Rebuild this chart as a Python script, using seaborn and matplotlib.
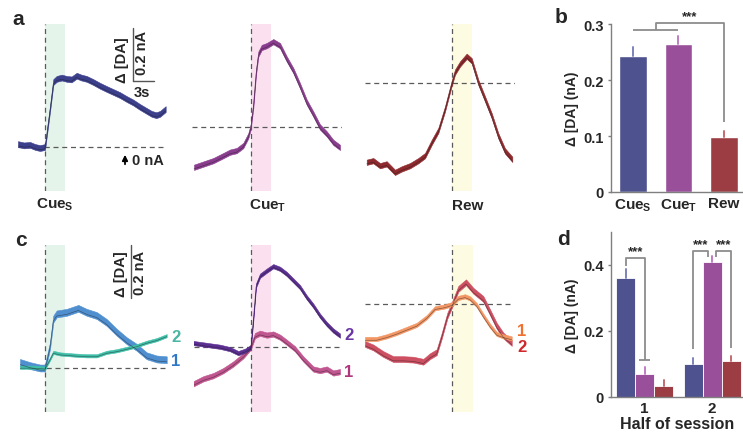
import numpy as np
import pandas as pd
import matplotlib
matplotlib.use("Agg")
import matplotlib.pyplot as plt
import seaborn as sns

# ---------------- data ----------------
# panel a traces (time in s relative to cue, change in [DA] in nA)
a_cues_t = [-3.86, -3.0, -2.14, -1.4, -0.71, 0.0, 0.71, 1.19, 1.67, 2.4, 3.1, 3.8, 4.53, 5.2, 5.96, 6.9,
            7.86, 8.8, 9.71, 10.7, 11.67, 12.6, 13.57, 14.4, 15.24, 15.9, 16.43, 17.24]
a_cues_v = [0.011, 0.006, 0.008, 0.0, -0.004, 0.0, 0.143, 0.245, 0.257, 0.262, 0.257, 0.255, 0.269, 0.262,
            0.257, 0.245, 0.231, 0.219, 0.208, 0.196, 0.181, 0.168, 0.151, 0.138, 0.125, 0.12, 0.125, 0.143]
a_cuet_t = [-8.1, -6.77, -5.34, -3.91, -2.96, -2.0, -1.06, -0.34, 0.0, 0.37, 0.76, 1.09, 1.57, 2.29, 3.23,
            4.19, 5.14, 6.09, 7.04, 8.0, 8.94, 9.9, 10.86, 11.8, 12.76]
a_cuet_v = [-0.152, -0.140, -0.127, -0.108, -0.095, -0.089, -0.070, -0.033, 0.0, 0.080, 0.206, 0.275, 0.300,
            0.307, 0.322, 0.307, 0.257, 0.213, 0.156, 0.094, 0.049, 0.0, -0.026, -0.058, -0.077]
a_rew_t = [-12.14, -11.2, -10.24, -9.29, -8.1, -7.14, -5.96, -4.77, -3.81, -2.86, -1.91, -0.96, 0.0, 0.47,
           1.19, 2.14, 2.86, 3.8, 4.76, 5.71, 6.66, 7.61, 8.66]
a_rew_v = [-0.298, -0.292, -0.311, -0.304, -0.336, -0.323, -0.311, -0.292, -0.273, -0.223, -0.178, -0.097,
           0.0, 0.042, 0.073, 0.102, 0.085, 0.004, -0.059, -0.122, -0.198, -0.255, -0.287]

# panel c traces, split by half of session
c_cues1_t = [-3.57, -2.14, -0.71, 0.0, 0.71, 1.19, 1.67, 3.1, 4.76, 5.96, 7.39, 8.81, 10.24, 11.67, 13.1,
             14.53, 15.96, 17.39]
c_cues1_v = [0.021, 0.009, 0.0, 0.0, 0.084, 0.185, 0.204, 0.210, 0.225, 0.210, 0.198, 0.172, 0.135, 0.103,
             0.078, 0.046, 0.034, 0.031]
c_cues2_t = [-3.57, -1.67, 0.0, 0.71, 1.19, 2.14, 4.04, 5.96, 7.39, 8.81, 10.24, 11.67, 13.1, 14.53, 15.96, 17.39]
c_cues2_v = [0.003, 0.003, 0.0, 0.034, 0.059, 0.053, 0.049, 0.046, 0.046, 0.059, 0.065, 0.074, 0.084, 0.097,
             0.107, 0.122]
c_cuet2_t = [-8.2, -6.29, -4.39, -2.96, -1.77, -0.81, 0.0, 0.37, 0.76, 1.33, 2.29, 3.23, 4.19, 5.14, 6.09,
             7.04, 7.99, 8.94, 9.9, 10.86, 11.8, 12.76]
c_cuet2_v = [0.016, 0.009, 0.002, -0.007, -0.022, -0.013, 0.0, 0.107, 0.233, 0.270, 0.289, 0.306, 0.296,
             0.277, 0.252, 0.227, 0.189, 0.157, 0.119, 0.088, 0.063, 0.044]
c_cuet1_t = [-8.2, -6.77, -5.34, -3.91, -2.49, -1.06, 0.0, 0.61, 1.33, 2.29, 3.23, 4.19, 5.14, 6.33, 7.51,
             8.94, 9.9, 10.86, 11.8, 12.76]
c_cuet1_v = [-0.138, -0.119, -0.107, -0.088, -0.063, -0.032, 0.0, 0.044, 0.053, 0.046, 0.050, 0.038, 0.019,
             -0.006, -0.044, -0.082, -0.088, -0.082, -0.097, -0.092]
c_rew1_t = [-12.47, -10.8, -9.37, -7.94, -6.51, -5.09, -3.66, -2.47, -1.04, 0.0, 0.86, 1.81, 2.53, 3.49,
            4.43, 5.39, 6.34, 7.29, 8.49]
c_rew1_v = [-0.132, -0.132, -0.122, -0.109, -0.094, -0.079, -0.050, -0.016, -0.009, 0.0, 0.023, 0.029,
            0.021, -0.004, -0.044, -0.082, -0.113, -0.122, -0.130]
c_rew2_t = [-12.47, -11.29, -9.86, -8.43, -7.0, -5.57, -4.14, -3.19, -2.23, -1.51, -0.71, 0.0, 0.86, 1.96,
            3.0, 4.43, 5.39, 6.34, 7.29, 8.49]
c_rew2_v = [-0.151, -0.164, -0.189, -0.208, -0.208, -0.210, -0.218, -0.197, -0.182, -0.120, -0.044, 0.0,
            0.057, 0.082, 0.050, 0.019, -0.031, -0.082, -0.119, -0.147]

# panel b bars
b_cats = ["CueS", "CueT", "Rew"]
b_ticklabels = [r"Cue$_\mathbf{S}$", r"Cue$_\mathbf{T}$", "Rew"]
b_vals = [0.244, 0.264, 0.098]
b_err = [0.016, 0.015, 0.012]
b_yticks = [0, 0.1, 0.2, 0.3]
b_yticklabels = ["0", "0.1", "0.2", "0.3"]

# panel d bars
d_halves = ["1", "2"]
d_vals_half1 = [0.360, 0.069, 0.032]
d_vals_half2 = [0.100, 0.409, 0.107]
d_err_half1 = [0.029, 0.022, 0.020]
d_err_half2 = [0.018, 0.017, 0.018]
d_yticks = [0, 0.2, 0.4]
d_yticklabels = ["0", "0.2", "0.4"]

# ---------------- style ----------------
sns.set_theme(style="white")
plt.rcParams["font.family"] = ["Liberation Sans", "DejaVu Sans"]
plt.rcParams["mathtext.fontset"] = "custom"
plt.rcParams["mathtext.rm"] = "Liberation Sans"
plt.rcParams["mathtext.bf"] = "Liberation Sans:bold"

bar_colors = ["#4e5390", "#9a4f9a", "#9b3d43"]
err_colors = ["#7d82bd", "#c27cc4", "#c46b70"]
bracket_col = "#8c8c8c"
dash_col = "#5a5a5a"
CUE_DUR = 2.9

W, H = 743, 435
fig = plt.figure(figsize=(W / 100, H / 100), dpi=100)
PX_PER_S = 7.0
PX_PER_NA = 265.0


def add_px_axes(l, t, r, b):
    return fig.add_axes([l / W, 1 - b / H, (r - l) / W, (b - t) / H])


def ftext(x, y, s, **kw):
    kw.setdefault("fontweight", "bold")
    return fig.text(x / W, 1 - y / H, s, **kw)


def trace_panel(l, t, r, b, cue_x, base_y, shade, traces):
    ax = add_px_axes(l, t, r, b)
    ax.axvspan(0, CUE_DUR, color=shade, lw=0, zorder=0)
    ax.axvline(0, color=dash_col, lw=0.9, ls=(0, (4, 3)), zorder=1)
    ax.axhline(0, color=dash_col, lw=0.9, ls=(0, (4, 3)), zorder=1)
    for tt, vv, sem, col in traces:
        tt = np.asarray(tt)
        vv = np.asarray(vv)
        ax.fill_between(tt, vv - sem, vv + sem, color=col, lw=0.4, edgecolor=col, zorder=2)
        sns.lineplot(x=tt, y=vv - sem * 0.6, ax=ax, color="#1c1c1c", lw=0.45, alpha=0.55, zorder=3,
                     sort=False)
    ax.set_xlim((l - cue_x) / PX_PER_S, (r - cue_x) / PX_PER_S)
    ax.set_ylim((base_y - b) / PX_PER_NA, (base_y - t) / PX_PER_NA)
    ax.axis("off")
    return ax


# ---------------- panel a ----------------
ax_a1 = trace_panel(18, 25, 166, 192, 45, 148, "#e4f4ea",
                    [(a_cues_t, a_cues_v, 0.011, "#3b3f8c")])
ax_a2 = trace_panel(192, 25, 342, 192, 250.7, 128, "#fbe1f0",
                    [(a_cuet_t, a_cuet_v, 0.010, "#8a3d8e")])
ax_a3 = trace_panel(365, 25, 515, 192, 451.7, 84.3, "#fdfbe2",
                    [(a_rew_t, a_rew_v, 0.010, "#8e2a2e")])

# scale bar in panel a (0.2 nA, 3 s)
sb_t, sb_v = 12.57, 0.249
ax_a1.plot([sb_t, sb_t], [sb_v, sb_v + 0.2], color="#555555", lw=1.0, clip_on=False)
ax_a1.plot([sb_t, sb_t + 3], [sb_v, sb_v], color="#555555", lw=1.0, clip_on=False)
ftext(122, 60, "Δ [DA]", rotation=90, ha="center", va="center", fontsize=10.5)
ftext(142, 53, "0.2 nA", rotation=90, ha="center", va="center", fontsize=10.5)
ftext(142, 93, "3s", ha="center", va="center", fontsize=10.5)
fig.add_artist(matplotlib.patches.FancyArrowPatch((125 / W, 1 - 168 / H), (125 / W, 1 - 153 / H),
                                                  transform=fig.transFigure, arrowstyle="-|>",
                                                  mutation_scale=8, color="black", lw=1.3))
ftext(132, 161, "0 nA", ha="left", va="center", fontsize=10.5)

ftext(55, 205, r"Cue$_\mathbf{S}$", ha="center", va="center", fontsize=11)
ftext(268, 206, r"Cue$_\mathbf{T}$", ha="center", va="center", fontsize=11)
ftext(468, 206, "Rew", ha="center", va="center", fontsize=11)

# ---------------- panel c ----------------
ax_c1 = trace_panel(20, 246, 167, 413, 45, 369, "#e4f4ea",
                    [(c_cues1_t, c_cues1_v, 0.013, "#4f8fd0"),
                     (c_cues2_t, c_cues2_v, 0.006, "#3fbfa9")])
ax_c2 = trace_panel(194, 246, 341, 413, 250.7, 348.3, "#fbe1f0",
                    [(c_cuet1_t, c_cuet1_v, 0.010, "#c0558f"),
                     (c_cuet2_t, c_cuet2_v, 0.008, "#5b2e91")])
ax_c3 = trace_panel(365, 246, 514, 413, 452.3, 305, "#fdfbe2",
                    [(c_rew2_t, c_rew2_v, 0.011, "#cc4f62"),
                     (c_rew1_t, c_rew1_v, 0.008, "#f39664")])

ax_c1.plot([12.29, 12.29], [0.264, 0.464], color="#555555", lw=1.0, clip_on=False)
ftext(121, 274, "Δ [DA]", rotation=90, ha="center", va="center", fontsize=10.5)
ftext(140, 273, "0.2 nA", rotation=90, ha="center", va="center", fontsize=10.5)

ftext(176, 338, "2", color="#4ab5a5", ha="center", va="center", fontsize=12)
ftext(176, 362, "1", color="#2f78c8", ha="center", va="center", fontsize=12)
ftext(349, 336, "2", color="#6a36a6", ha="center", va="center", fontsize=12)
ftext(349, 373, "1", color="#b0367e", ha="center", va="center", fontsize=12)
ftext(522, 332, "1", color="#f07030", ha="center", va="center", fontsize=12)
ftext(522, 348, "2", color="#d0282c", ha="center", va="center", fontsize=12)


def style_bar_axes(ax):
    sns.despine(ax=ax)
    for s in ("left", "bottom"):
        ax.spines[s].set_color("#7f7f7f")
        ax.spines[s].set_linewidth(1.0)
    ax.tick_params(axis="y", length=2, width=1, color="#7f7f7f", pad=3, left=True)
    ax.tick_params(axis="x", length=0, pad=3)


# ---------------- panel b ----------------
ax_b = add_px_axes(611, 25.3, 743, 193)
b_df = pd.DataFrame({"cue": b_cats, "val": b_vals})
sns.barplot(data=b_df, x="cue", y="val", hue="cue", palette=bar_colors, width=0.6, saturation=1,
            errorbar=None, legend=False, ax=ax_b)
for p, e, ec in zip(ax_b.patches, b_err, err_colors):
    xc = p.get_x() + p.get_width() / 2
    top = p.get_height()
    ax_b.plot([xc, xc], [top, top + e], color=ec, lw=1.4, zorder=1)
ax_b.set_xlim(-0.48, 2.42)
ax_b.set_ylim(0, 0.3)
style_bar_axes(ax_b)
ax_b.set_xticks(range(len(b_cats)))
ax_b.set_xticklabels(b_ticklabels, fontsize=11, fontweight="bold")
ax_b.set_yticks(b_yticks)
ax_b.set_yticklabels(b_yticklabels, fontsize=10.5, fontweight="bold")
ax_b.set_xlabel("")
ax_b.set_ylabel("Δ [DA] (nA)", fontsize=10, fontweight="bold", labelpad=3)
kw = dict(color=bracket_col, lw=1.3, clip_on=False, solid_capstyle="butt")
ax_b.plot([0, 1], [0.289, 0.289], **kw)
ax_b.plot([0.5, 0.5, 2, 2], [0.289, 0.302, 0.302, 0.126], **kw)
ax_b.text(1.25, 0.303, "***", ha="center", va="bottom", fontsize=9.5, fontweight="bold")

# ---------------- panel d ----------------
ax_d = add_px_axes(611, 233, 743, 397.7)
d_df = pd.DataFrame({"half": [h for h in d_halves for _ in b_cats],
                     "cue": b_cats * 2,
                     "val": d_vals_half1 + d_vals_half2})
sns.barplot(data=d_df, x="half", y="val", hue="cue", hue_order=b_cats, palette=bar_colors, width=0.84,
            saturation=1, errorbar=None, legend=False, edgecolor="white", linewidth=0.6, ax=ax_d)
pats = sorted(ax_d.patches, key=lambda p: p.get_x())
centers = [p.get_x() + p.get_width() / 2 for p in pats]
for p, e, ec in zip(pats, d_err_half1 + d_err_half2, err_colors * 2):
    xc = p.get_x() + p.get_width() / 2
    top = p.get_height()
    ax_d.plot([xc, xc], [top, top + e], color=ec, lw=1.4, zorder=1)
ax_d.set_xlim(-0.5, 1.456)
ax_d.set_ylim(0, 0.5)
style_bar_axes(ax_d)
ax_d.set_yticks(d_yticks)
ax_d.set_yticklabels(d_yticklabels, fontsize=10.5, fontweight="bold")
ax_d.set_xticks(range(len(d_halves)))
ax_d.set_xticklabels(d_halves, fontsize=11, fontweight="bold")
ax_d.set_xlabel("Half of session", fontsize=11.5, fontweight="bold", labelpad=1)
ax_d.set_ylabel("Δ [DA] (nA)", fontsize=10, fontweight="bold", labelpad=3)
# brackets
ax_d.plot([centers[0], centers[0], centers[1], centers[1]], [0.398, 0.421, 0.421, 0.11], **kw)
ax_d.plot([centers[1] - 0.08, centers[1] + 0.08], [0.11, 0.11], **kw)
ax_d.text((centers[0] + centers[1]) / 2, 0.424, "***", ha="center", va="bottom", fontsize=9.5,
          fontweight="bold")
lx, rx = centers[3], centers[4] - 0.07
ax_d.plot([lx, lx, rx, rx], [0.145, 0.441, 0.441, 0.425], **kw)
ax_d.text((lx + rx) / 2, 0.444, "***", ha="center", va="bottom", fontsize=9.5, fontweight="bold")
lx2, rx2 = centers[4] + 0.06, centers[5]
ax_d.plot([lx2, lx2, rx2, rx2], [0.425, 0.441, 0.441, 0.147], **kw)
ax_d.text((lx2 + rx2) / 2, 0.444, "***", ha="center", va="bottom", fontsize=9.5, fontweight="bold")

# ---------------- panel letters ----------------
ftext(12, 25, "a", fontsize=15, ha="left", va="baseline")
ftext(555, 23, "b", fontsize=15, ha="left", va="baseline")
ftext(15, 246, "c", fontsize=15, ha="left", va="baseline")
ftext(557, 245, "d", fontsize=15, ha="left", va="baseline")

fig.savefig("out.png", dpi=100)
